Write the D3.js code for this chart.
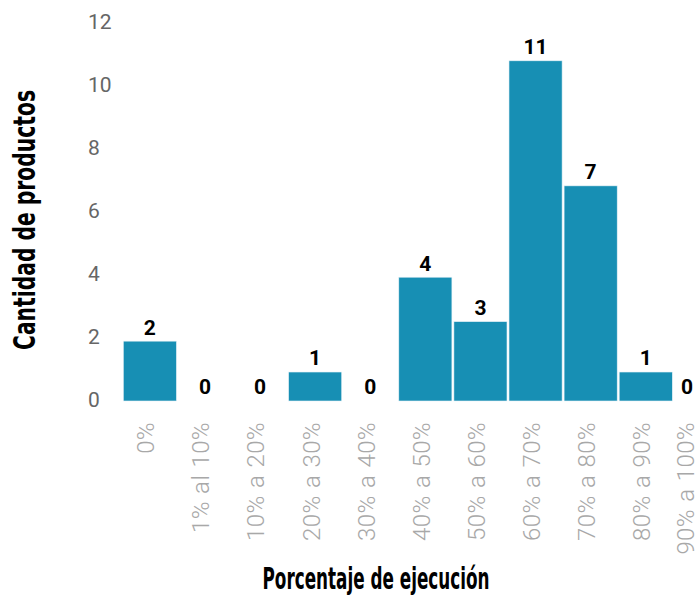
<!DOCTYPE html>
<html>
<head>
<meta charset="utf-8">
<script src="https://cdn.jsdelivr.net/npm/d3@7"></script>
<style>
  body { margin: 0; background: #fff; }
  svg { display: block; }
</style>
</head>
<body>
<div id="chart"></div>
<script>
(function(){

  var categories = ["0%", "1% al 10%", "10% a 20%", "20% a 30%", "30% a 40%", "40% a 50%",
                    "50% a 60%", "60% a 70%", "70% a 80%", "80% a 90%", "90% a 100%"];
  // counts printed above the bars
  var counts = [2, 0, 0, 1, 0, 4, 3, 11, 7, 1, 0];
  // bar heights as drawn in the picture
  var barHeights = [1.9, 0, 0, 0.92, 0, 3.93, 2.52, 10.8, 6.83, 0.92, 0];
  var yTicks = [0, 2, 4, 6, 8, 10, 12];

  var width = 698;
  var height = 596;

  var svg = d3.select("#chart")
    .append("svg")
    .attr("width", width)
    .attr("height", height);

  var x = d3.scaleBand()
    .domain(categories)
    .range([123.3, 727.4])
    .paddingInner(0.036)
    .paddingOuter(0);

  var y = d3.scaleLinear()
    .domain([0, 12])
    .range([401, 23]);

  // y axis
  var yAxis = svg.append("g")
    .attr("transform", "translate(88,0)")
    .call(d3.axisLeft(y).tickValues(yTicks).tickSize(0));
  yAxis.select(".domain").remove();
  yAxis.selectAll("text")
    .attr("x", 0)
    .attr("dy", "0.28em")
    .attr("text-anchor", "start")
    .style("font-family", "Roboto, 'Open Sans', sans-serif")
    .style("font-size", "21px")
    .style("fill", "#666");

  // bars
  svg.selectAll("rect.bar")
    .data(categories)
    .enter()
    .append("rect")
    .attr("class", "bar")
    .attr("x", function(d){ return x(d); })
    .attr("width", x.bandwidth())
    .attr("y", function(d, i){ return y(barHeights[i]); })
    .attr("height", function(d, i){ return y(0) - y(barHeights[i]); })
    .attr("fill", "#178fb4")
    .attr("stroke", "#e6f2f7")
    .attr("stroke-width", 0.6);

  function labelX(d, shift){
    var cx = x(d) + x.bandwidth() / 2 + shift;
    return Math.min(cx, width - 11);
  }

  // value labels
  svg.selectAll("text.value")
    .data(categories)
    .enter()
    .append("text")
    .attr("class", "value")
    .attr("x", function(d){ return labelX(d, 0); })
    .attr("y", function(d, i){ return y(barHeights[i]) - 14; })
    .attr("dy", "0.35em")
    .attr("text-anchor", "middle")
    .style("font-family", "Roboto, sans-serif")
    .style("font-weight", "bold")
    .style("font-size", "21px")
    .style("fill", "#000")
    .text(function(d, i){ return counts[i]; });

  // category labels (rotated)
  svg.selectAll("text.cat")
    .data(categories)
    .enter()
    .append("text")
    .attr("class", "cat")
    .attr("transform", function(d){
      return "translate(" + Math.min(labelX(d, -4), width - 12) + ",422) rotate(-90)";
    })
    .attr("dy", "0.35em")
    .attr("text-anchor", "end")
    .style("font-family", "Roboto, sans-serif")
    .style("font-weight", 300)
    .style("font-size", "24px")
    .style("letter-spacing", "0.4px")
    .style("word-spacing", "1px")
    .style("fill", "#a8a8a8")
    .text(function(d){ return d; });

  // axis titles
  svg.append("text")
    .attr("x", 376)
    .attr("y", 589)
    .attr("text-anchor", "middle")
    .attr("textLength", 227)
    .attr("lengthAdjust", "spacingAndGlyphs")
    .style("font-family", "'Liberation Sans Narrow', 'DejaVu Sans Condensed', Roboto, sans-serif")
    .style("font-weight", "bold")
    .style("font-size", "30px")
    .style("fill", "#000")
    .text("Porcentaje de ejecución");

  svg.append("text")
    .attr("transform", "translate(35,220) rotate(-90)")
    .attr("text-anchor", "middle")
    .attr("textLength", 260)
    .attr("lengthAdjust", "spacingAndGlyphs")
    .style("font-family", "'Liberation Sans Narrow', 'DejaVu Sans Condensed', Roboto, sans-serif")
    .style("font-weight", "bold")
    .style("font-size", "30px")
    .style("fill", "#000")
    .text("Cantidad de productos");

})();
</script>
</body>
</html>
